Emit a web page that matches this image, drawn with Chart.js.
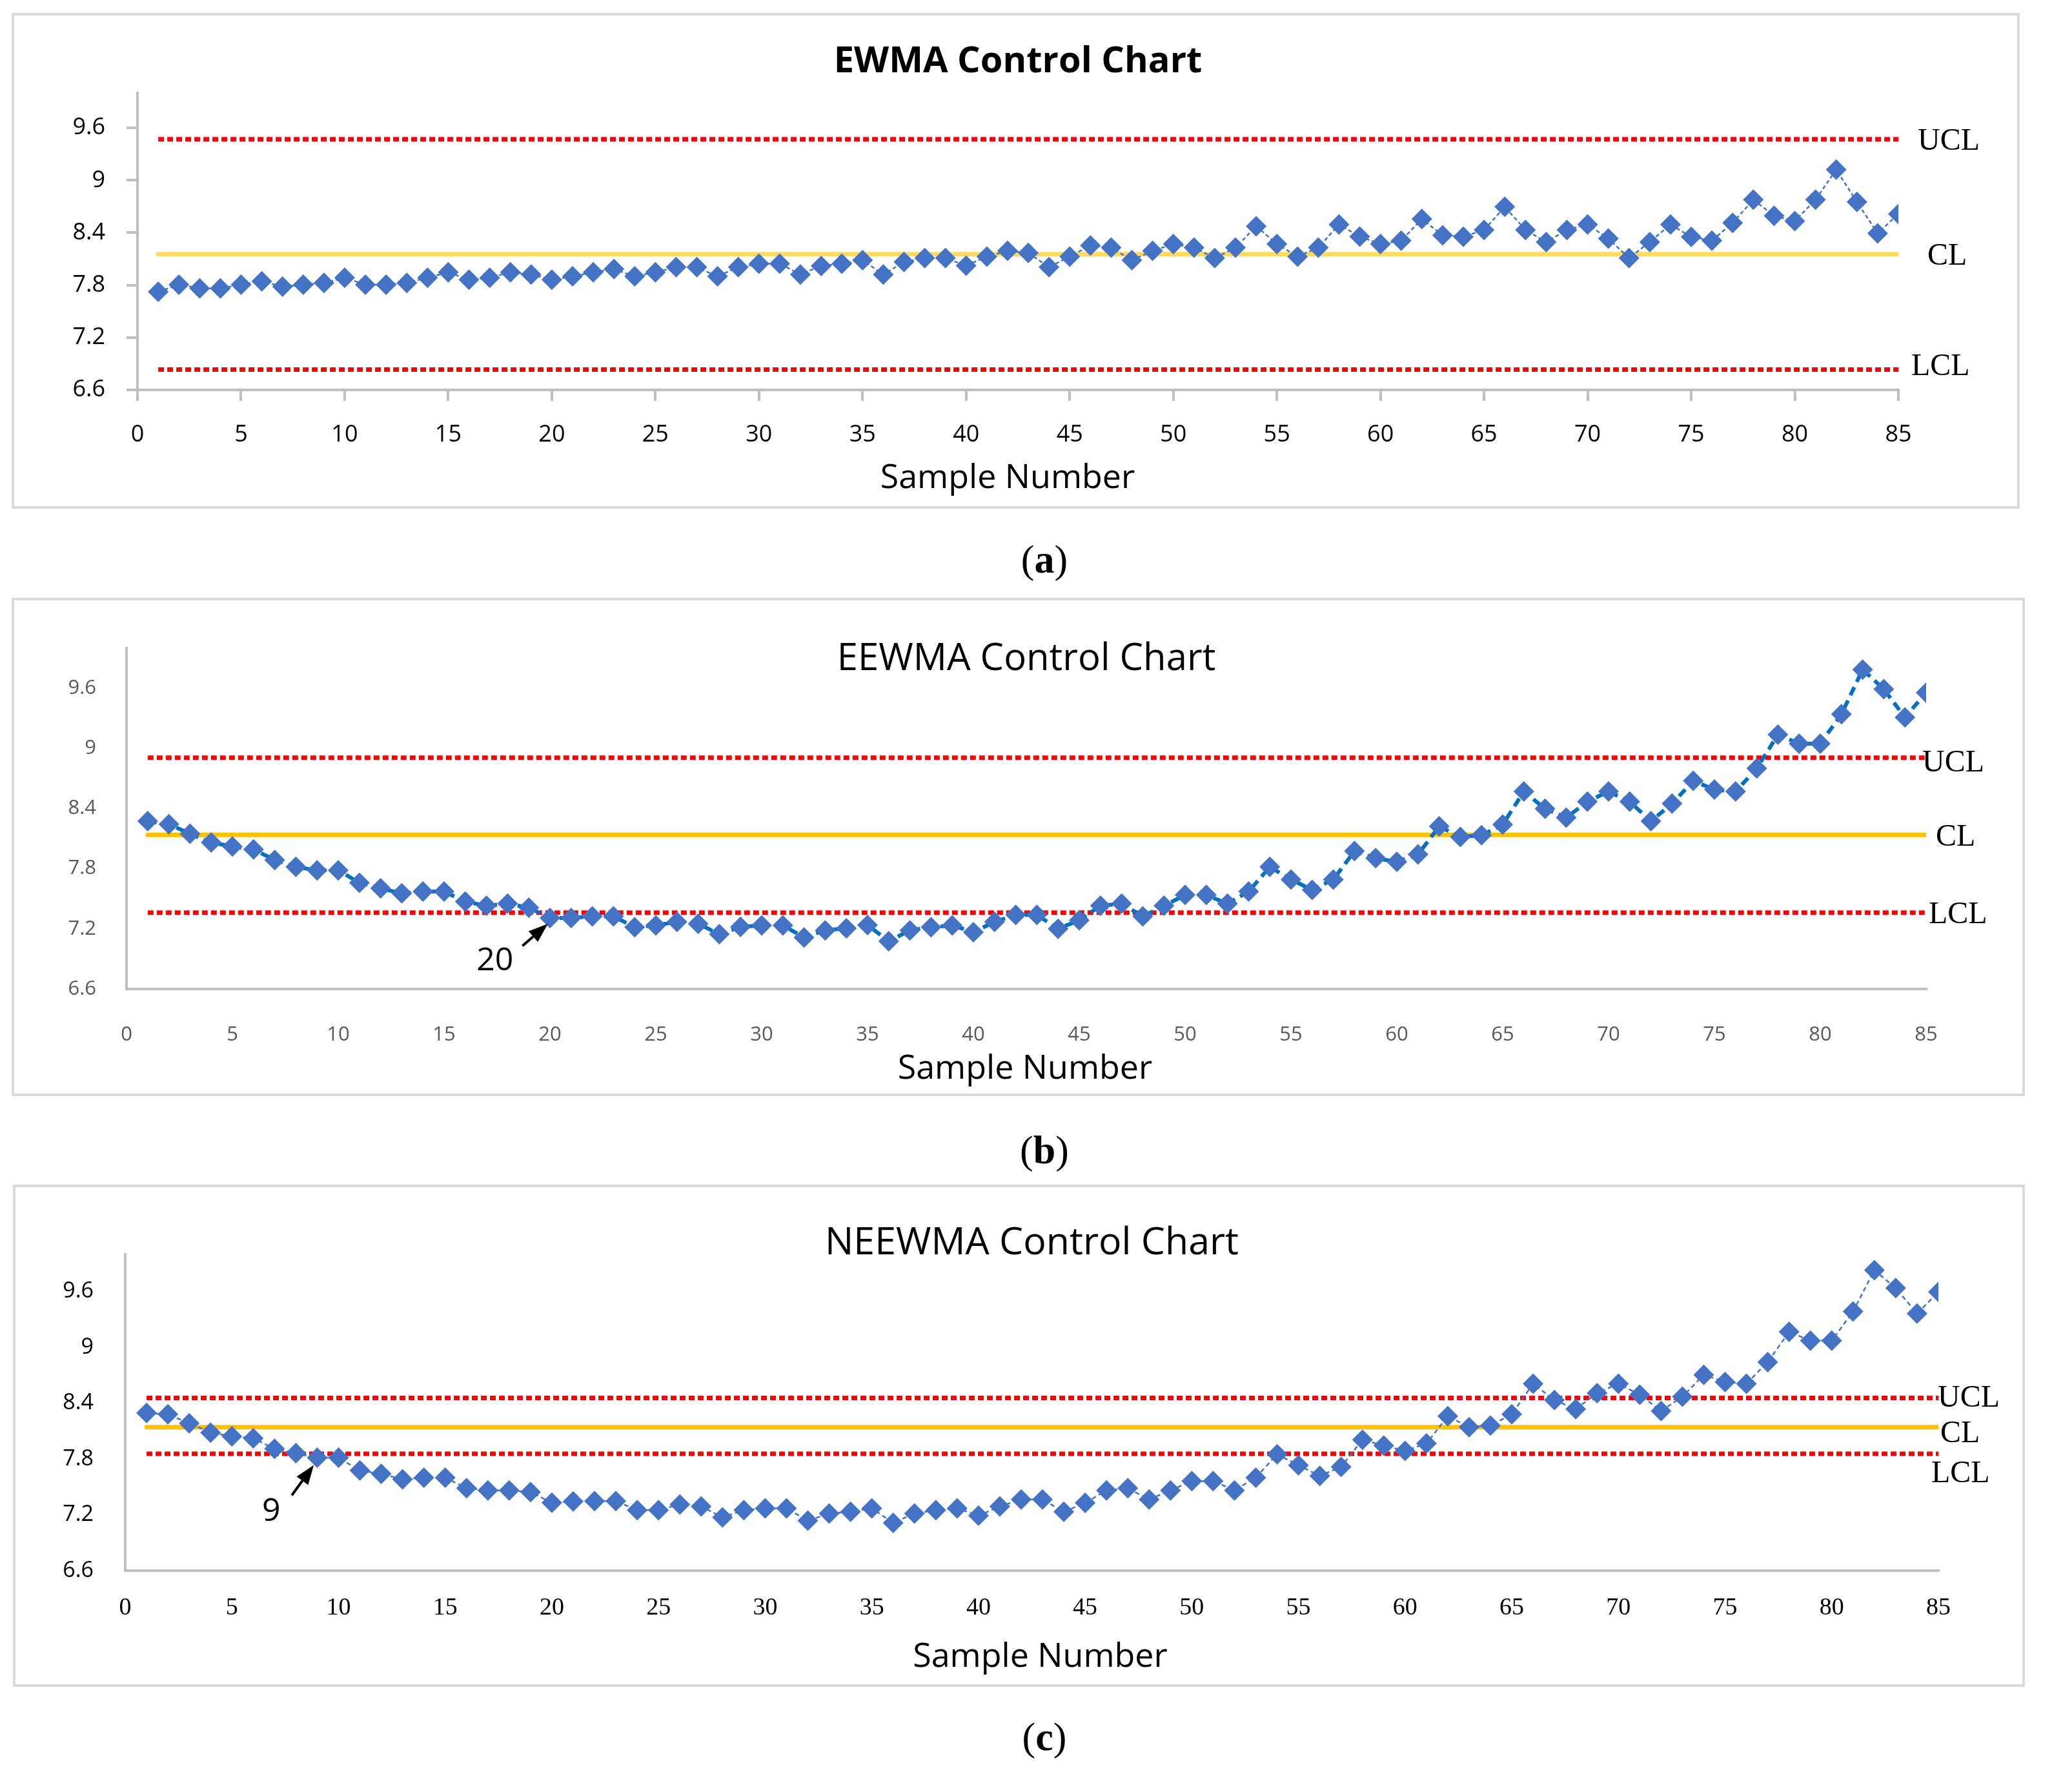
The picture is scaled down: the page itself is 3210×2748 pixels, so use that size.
<!DOCTYPE html>
<html>
<head>
<meta charset="utf-8">
<title>EWMA / EEWMA / NEEWMA control charts</title>
<script src="https://cdn.jsdelivr.net/npm/chart.js@4.4.1/dist/chart.umd.min.js"></script>
<style>
  html, body { margin: 0; padding: 0; background: #fff; }
  body { width: 3210px; height: 2748px; position: relative; overflow: hidden; }
  .box { position: absolute; box-sizing: border-box; border: 4px solid #D9D9D9; }
  canvas { position: absolute; }
  .caption { position: absolute; transform: translate(-50%, -50%); font-family: 'Liberation Serif', serif; font-size: 62px; color: #000; }
  .caption b { font-weight: bold; }
</style>
</head>
<body>

<div class="box" style="left:18px;top:20px;width:3111px;height:768px"></div>
<canvas id="chartA" width="3111" height="768" style="left:18px;top:20px"></canvas>
<div class="caption" style="left:1618px;top:866px">(<b>a</b>)</div>

<div class="box" style="left:18px;top:926px;width:3119px;height:772px"></div>
<canvas id="chartB" width="3119" height="772" style="left:18px;top:926px"></canvas>
<div class="caption" style="left:1618px;top:1781px">(<b>b</b>)</div>

<div class="box" style="left:20px;top:1835px;width:3117px;height:778px"></div>
<canvas id="chartC" width="3117" height="778" style="left:20px;top:1835px"></canvas>
<div class="caption" style="left:1618px;top:2690px">(<b>c</b>)</div>

<script>
// sample numbers on the x axis
const sampleNumbers = [1, 2, 3, 4, 5, 6, 7, 8, 9, 10, 11, 12, 13, 14, 15, 16, 17, 18, 19, 20,
  21, 22, 23, 24, 25, 26, 27, 28, 29, 30, 31, 32, 33, 34, 35, 36, 37, 38, 39, 40,
  41, 42, 43, 44, 45, 46, 47, 48, 49, 50, 51, 52, 53, 54, 55, 56, 57, 58, 59, 60,
  61, 62, 63, 64, 65, 66, 67, 68, 69, 70, 71, 72, 73, 74, 75, 76, 77, 78, 79, 80,
  81, 82, 83, 84, 85];

const xTickValues = [0, 5, 10, 15, 20, 25, 30, 35, 40, 45, 50, 55, 60, 65, 70, 75, 80, 85];
const yTickValues = [6.6, 7.2, 7.8, 8.4, 9, 9.6];
const limitNames = ['UCL', 'CL', 'LCL'];
const xAxisName = 'Sample Number';

// (a) EWMA statistic
const ewmaValues = [7.724, 7.805, 7.763, 7.763, 7.805, 7.843, 7.783, 7.805, 7.825, 7.885,
  7.805, 7.805, 7.825, 7.885, 7.947, 7.862, 7.885, 7.947, 7.922, 7.862,
  7.900, 7.947, 7.984, 7.900, 7.947, 8.006, 8.006, 7.900, 8.006, 8.045,
  8.045, 7.922, 8.020, 8.045, 8.085, 7.922, 8.065, 8.110, 8.110, 8.023,
  8.127, 8.192, 8.168, 8.006, 8.127, 8.253, 8.229, 8.085, 8.192, 8.271,
  8.229, 8.110, 8.229, 8.474, 8.271, 8.127, 8.229, 8.494, 8.355, 8.271,
  8.310, 8.556, 8.370, 8.354, 8.432, 8.697, 8.432, 8.293, 8.432, 8.494,
  8.333, 8.110, 8.293, 8.494, 8.352, 8.310, 8.513, 8.778, 8.593, 8.533,
  8.778, 9.122, 8.753, 8.392, 8.615];
const ewmaLimits = [9.469, 8.154, 6.833]; // UCL, CL, LCL

// (b) EEWMA statistic
const eewmaValues = [8.274, 8.244, 8.148, 8.061, 8.022, 7.992, 7.887, 7.818, 7.783, 7.783,
  7.660, 7.604, 7.554, 7.572, 7.572, 7.472, 7.430, 7.451, 7.412, 7.309,
  7.309, 7.325, 7.325, 7.217, 7.235, 7.270, 7.251, 7.148, 7.219, 7.235,
  7.235, 7.114, 7.185, 7.206, 7.238, 7.077, 7.185, 7.217, 7.235, 7.167,
  7.270, 7.339, 7.339, 7.201, 7.286, 7.430, 7.451, 7.325, 7.430, 7.538,
  7.538, 7.451, 7.572, 7.818, 7.692, 7.589, 7.692, 7.976, 7.905, 7.868,
  7.942, 8.222, 8.116, 8.134, 8.240, 8.570, 8.398, 8.309, 8.469, 8.570,
  8.469, 8.274, 8.449, 8.676, 8.589, 8.570, 8.800, 9.137, 9.047, 9.047,
  9.341, 9.786, 9.591, 9.309, 9.556];
const eewmaLimits = [8.907, 8.137, 7.361];

// (c) NEEWMA statistic
const neewmaValues = [8.295, 8.281, 8.184, 8.084, 8.044, 8.023, 7.909, 7.862, 7.814, 7.814,
  7.677, 7.640, 7.581, 7.600, 7.600, 7.486, 7.463, 7.463, 7.444, 7.330,
  7.345, 7.347, 7.347, 7.251, 7.251, 7.312, 7.291, 7.172, 7.251, 7.270,
  7.270, 7.137, 7.214, 7.233, 7.270, 7.114, 7.214, 7.251, 7.270, 7.191,
  7.291, 7.365, 7.365, 7.233, 7.328, 7.463, 7.486, 7.365, 7.463, 7.563,
  7.563, 7.463, 7.600, 7.851, 7.733, 7.619, 7.716, 8.007, 7.944, 7.888,
  7.967, 8.260, 8.142, 8.160, 8.281, 8.609, 8.433, 8.337, 8.509, 8.609,
  8.491, 8.316, 8.470, 8.705, 8.628, 8.609, 8.842, 9.167, 9.072, 9.072,
  9.386, 9.830, 9.637, 9.363, 9.595];
const neewmaLimits = [8.456, 8.142, 7.856];

const SANS = "'Open Sans', 'Noto Sans', sans-serif";
const SERIF = "'Liberation Serif', 'Times New Roman', serif";

// draws the title, the axis name, the UCL/CL/LCL labels and the arrow note
const chartTextPlugin = {
  id: 'chartText',
  afterDraw(chart, args, opts) {
    const ctx = chart.ctx;
    const area = chart.chartArea;
    const xs = chart.scales.x;
    const ys = chart.scales.y;
    const midX = (area.left + area.right) / 2;
    ctx.save();
    ctx.fillStyle = '#000';
    ctx.textBaseline = 'middle';
    ctx.textAlign = 'center';

    ctx.font = opts.titleFont;
    ctx.fillText(opts.title, midX, area.top + opts.titleOffset);

    ctx.font = '52px ' + SANS;
    ctx.fillText(xAxisName, midX + opts.axisNameOffset[0], area.bottom + opts.axisNameOffset[1]);

    ctx.font = '48px ' + SERIF;
    ctx.textAlign = 'left';
    opts.limits.forEach(function (v, i) {
      const off = opts.labelOffsets[i];
      ctx.fillText(limitNames[i], area.right + off[0], ys.getPixelForValue(v) + off[1]);
    });

    if (opts.note) {
      const n = opts.note;
      ctx.font = '50px ' + SANS;
      ctx.textAlign = 'center';
      ctx.fillText(n.text, xs.getPixelForValue(n.textAt[0]), ys.getPixelForValue(n.textAt[1]));
      const x1 = xs.getPixelForValue(n.from[0]);
      const y1 = ys.getPixelForValue(n.from[1]);
      const x2 = xs.getPixelForValue(n.to[0]);
      const y2 = ys.getPixelForValue(n.to[1]);
      const ang = Math.atan2(y2 - y1, x2 - x1);
      const headLen = 30;
      const headHalf = 11;
      const bx = x2 - Math.cos(ang) * headLen;
      const by = y2 - Math.sin(ang) * headLen;
      ctx.strokeStyle = '#000';
      ctx.lineWidth = 4;
      ctx.beginPath();
      ctx.moveTo(x1, y1);
      ctx.lineTo(bx, by);
      ctx.stroke();
      ctx.beginPath();
      ctx.moveTo(x2, y2);
      ctx.lineTo(bx + Math.sin(ang) * headHalf, by - Math.cos(ang) * headHalf);
      ctx.lineTo(bx - Math.sin(ang) * headHalf, by + Math.cos(ang) * headHalf);
      ctx.closePath();
      ctx.fill();
    }
    ctx.restore();
  }
};

function limitLine(value) {
  return sampleNumbers.map(function (n) { return { x: n, y: value }; });
}

function buildChart(id, cfg) {
  const points = sampleNumbers.map(function (n, i) { return { x: n, y: cfg.values[i] }; });
  const redDots = { showLine: true, borderColor: '#FF0000', borderWidth: 7, borderDash: [9, 5], pointRadius: 0 };

  new Chart(document.getElementById(id), {
    type: 'scatter',
    data: {
      datasets: [
        {
          data: points,
          showLine: true,
          borderColor: cfg.lineColor,
          borderWidth: cfg.lineWidth,
          borderDash: cfg.lineDash,
          pointStyle: 'rectRot',
          pointRadius: 16,
          pointBackgroundColor: '#4472C4',
          pointBorderWidth: 0
        },
        Object.assign({ data: limitLine(cfg.limits[0]) }, redDots),
        {
          data: limitLine(cfg.limits[1]),
          showLine: true,
          borderColor: cfg.clColor,
          borderWidth: 7,
          borderCapStyle: 'round',
          pointRadius: 0
        },
        Object.assign({ data: limitLine(cfg.limits[2]) }, redDots)
      ]
    },
    options: {
      responsive: false,
      animation: false,
      devicePixelRatio: 1,
      events: [],
      layout: { padding: cfg.padding },
      plugins: {
        legend: { display: false },
        tooltip: { enabled: false },
        chartText: {
          title: cfg.title,
          titleFont: cfg.titleFont,
          titleOffset: cfg.titleOffset,
          axisNameOffset: cfg.axisNameOffset,
          limits: cfg.limits,
          labelOffsets: cfg.labelOffsets,
          note: cfg.note
        }
      },
      scales: {
        x: {
          type: 'linear',
          min: 0,
          max: 85,
          afterBuildTicks: function (s) { s.ticks = xTickValues.map(function (v) { return { value: v }; }); },
          afterFit: function (s) { s.height = cfg.xAxisHeight; },
          border: { display: true, color: '#BFBFBF', width: 4 },
          grid: { display: cfg.tickMarks, drawOnChartArea: false, drawTicks: cfg.tickMarks, tickLength: 17, color: '#BFBFBF', lineWidth: 4 },
          ticks: {
            autoSkip: false, maxRotation: 0,
            padding: cfg.xTickPadding,
            color: cfg.tickColor,
            font: cfg.xTickFont,
            callback: function (v) { return String(v); }
          }
        },
        y: {
          type: 'linear',
          min: 6.6,
          max: 10,
          afterBuildTicks: function (s) { s.ticks = yTickValues.map(function (v) { return { value: v }; }); },
          afterFit: function (s) { s.width = cfg.yAxisWidth; },
          border: { display: true, color: '#BFBFBF', width: 4 },
          grid: { display: cfg.tickMarks, drawOnChartArea: false, drawTicks: cfg.tickMarks, tickLength: 17, color: '#BFBFBF', lineWidth: 4 },
          ticks: {
            padding: cfg.yTickPadding,
            color: cfg.tickColor,
            font: cfg.yTickFont,
            callback: function (v) { return String(v); }
          }
        }
      }
    },
    plugins: [chartTextPlugin]
  });
}

buildChart('chartA', {
  values: ewmaValues,
  limits: ewmaLimits,
  title: 'EWMA Control Chart',
  titleFont: 'bold 56px ' + SANS,
  titleOffset: -48,
  axisNameOffset: [-16, 137],
  labelOffsets: [[30, 4], [45, 4], [20, -4]],
  lineColor: '#4472C4', lineWidth: 2.5, lineDash: [6, 4],
  clColor: '#FFD966',
  tickMarks: true,
  tickColor: '#000',
  xTickFont: { family: SANS, size: 36 },
  yTickFont: { family: SANS, size: 36 },
  xTickPadding: 31, yTickPadding: 33,
  padding: { left: 35, right: 188, top: 124, bottom: 17 },
  yAxisWidth: 160, xAxisHeight: 167
});

buildChart('chartB', {
  values: eewmaValues,
  limits: eewmaLimits,
  title: 'EEWMA Control Chart',
  titleFont: '58px ' + SANS,
  titleOffset: 17,
  axisNameOffset: [-2, 124],
  labelOffsets: [[-6, 9], [15, 4], [4, 4]],
  lineColor: '#0070C0', lineWidth: 6, lineDash: [14, 9],
  clColor: '#FFC000',
  tickMarks: false,
  tickColor: '#595959',
  xTickFont: { family: SANS, size: 31 },
  yTickFont: { family: SANS, size: 31 },
  xTickPadding: 53, yTickPadding: 47,
  padding: { left: 28, right: 153, top: 78, bottom: 14 },
  yAxisWidth: 150, xAxisHeight: 152,
  note: { text: '20', textAt: [17.4, 6.88], from: [18.7, 7.03], to: [19.9, 7.25] }
});

buildChart('chartC', {
  values: neewmaValues,
  limits: neewmaLimits,
  title: 'NEEWMA Control Chart',
  titleFont: '59px ' + SANS,
  titleOffset: -17,
  axisNameOffset: [13, 134],
  labelOffsets: [[-1, 1], [3, 11], [-11, 31]],
  lineColor: '#4472C4', lineWidth: 2.5, lineDash: [7, 5],
  clColor: '#FFC000',
  tickMarks: false,
  tickColor: '#000',
  xTickFont: { family: SERIF, size: 38 },
  yTickFont: { family: SANS, size: 34 },
  xTickPadding: 35, yTickPadding: 49,
  padding: { left: 24, right: 134, top: 108, bottom: 17 },
  yAxisWidth: 150, xAxisHeight: 163,
  note: { text: '9', textAt: [6.85, 7.23], from: [7.81, 7.41], to: [8.84, 7.735] }
});
</script>
</body>
</html>
